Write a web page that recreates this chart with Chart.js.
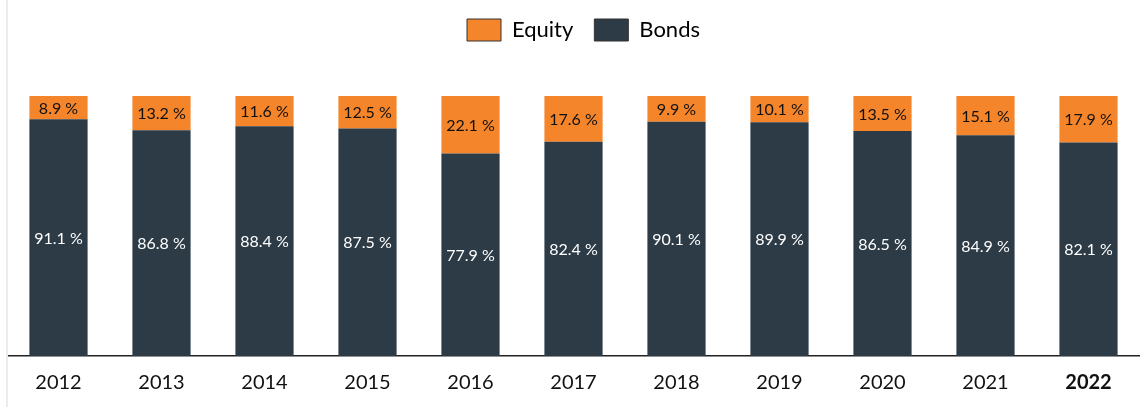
<!DOCTYPE html>
<html>
<head>
<meta charset="UTF-8" />
<script src="https://cdn.jsdelivr.net/npm/chart.js"></script>
<style>
  html, body { margin: 0; padding: 0; background: #fff; }
  #wrap { position: relative; width: 1140px; height: 407px; }
  #edge { position: absolute; left: 6px; top: 0; width: 2px; height: 407px; background: #ececec; }
</style>
</head>
<body>
<div id="wrap">
  <div id="edge"></div>
  <canvas id="c" width="1140" height="407"></canvas>
</div>
<script>
const years = ['2012','2013','2014','2015','2016','2017','2018','2019','2020','2021','2022'];
const bonds = [91.1, 86.8, 88.4, 87.5, 77.9, 82.4, 90.1, 89.9, 86.5, 84.9, 82.1];
const equity = [8.9, 13.2, 11.6, 12.5, 22.1, 17.6, 9.9, 10.1, 13.5, 15.1, 17.9];

const FONT = 'Lato, "Open Sans", sans-serif';

// labels inside bars
const barLabels = {
  id: 'barLabels',
  afterDatasetsDraw(chart) {
    const ctx = chart.ctx;
    ctx.save();
    ctx.font = '16px ' + FONT;
    ctx.textAlign = 'center';
    ctx.textBaseline = 'middle';
    chart.data.datasets.forEach((ds, i) => {
      chart.getDatasetMeta(i).data.forEach((bar, j) => {
        const p = bar.getProps(['x', 'y', 'base'], true);
        ctx.fillStyle = ds.label === 'Bonds' ? '#ffffff' : '#111111';
        ctx.fillText(ds.data[j].toFixed(1) + ' %', p.x, (p.y + p.base) / 2 + 1);
      });
    });
    ctx.restore();
  }
};

// fixed legend height, legend nudged
const legendSpace = {
  id: 'legendSpace',
  beforeInit(chart) {
    const lg = chart.legend;
    const fit = lg.fit;
    lg.fit = function () {
      fit.bind(lg)();
      this.height = 88;
    };
    const draw = lg.draw;
    lg.draw = function () {
      chart.ctx.save();
      chart.ctx.translate(10, -10);
      draw.apply(lg, arguments);
      chart.ctx.restore();
    };
  }
};

new Chart(document.getElementById('c'), {
  type: 'bar',
  data: {
    labels: years,
    datasets: [
      { label: 'Bonds', data: bonds, backgroundColor: '#2c3b46' },
      { label: 'Equity', data: equity, backgroundColor: '#f5852a' }
    ]
  },
  options: {
    responsive: false,
    animation: false,
    layout: { padding: { left: 7, right: 0, top: 8, bottom: 5 } },
    datasets: { bar: { barPercentage: 0.565, categoryPercentage: 1 } },
    plugins: {
      tooltip: { enabled: false },
      legend: {
        labels: {
          boxWidth: 34, boxHeight: 22, padding: 21,
          color: '#111', font: { family: FONT, size: 22 },
          generateLabels(chart) {
            return chart.data.datasets.map((ds, i) => ({
              text: ds.label, fillStyle: ds.backgroundColor,
              strokeStyle: '#333', lineWidth: 1, datasetIndex: i
            })).reverse();
          }
        }
      }
    },
    scales: {
      x: {
        stacked: true,
        grid: { display: false },
        border: { display: true, color: '#222', width: 1.5 },
        ticks: {
          color: '#111', padding: 7,
          font: c => ({ family: FONT, size: 20, weight: c.index === 10 ? 'bold' : 'normal' })
        }
      },
      y: { stacked: true, display: false, min: 0, max: 100 }
    }
  },
  plugins: [barLabels, legendSpace]
});
</script>
</body>
</html>
